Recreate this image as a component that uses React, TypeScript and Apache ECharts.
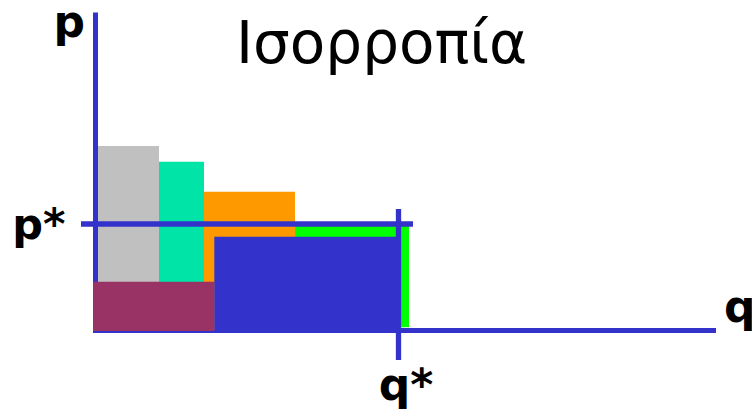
import React, { useEffect, useRef } from "react";
import * as echarts from "echarts";

// Quantity / price extents of the diagram (1 unit = 10 px)
const qMax = 61.8;
const pMax = 31.5;

// Equilibrium point
const qStar = 30.3;
const pStar = 10.6;

// Stacked blocks: left/right edges on q, base/top on p
const blockLeft = [0.25, 6.35, 10.85, 19.95, -0.25, 11.88];
const blockRight = [6.35, 10.85, 19.95, 31.35, 11.88, 30.55];
const blockBase = [0, 0, 0, 0.27, -0.1, -0.27];
const blockTop = [18.4, 16.83, 13.83, 10.6, 4.83, 9.33];
const blockColors = ["#C0C0C0", "#00E4A8", "#FF9900", "#00FF00", "#993366", "#3333CC"];

// Equilibrium guide lines
const pStarSpan = [-1.45, 31.75];
const qStarSpan = [-3.0, 12.1];

const axisColor = "#3333CC";
const titleText = "Ισορροπία";
const pLabel = "p*";
const qLabel = "q*";
const font = "DejaVu Sans, Verdana, sans-serif";

export default function App() {
  const ref = useRef<HTMLDivElement>(null);

  useEffect(() => {
    if (!ref.current) return;
    const chart = echarts.init(ref.current, undefined, { renderer: "svg" });

    const blocks = blockLeft.map((l, i) => [l, blockRight[i], blockBase[i], blockTop[i], i]);

    chart.setOption({
      animation: false,
      backgroundColor: "#ffffff",
      grid: { left: 95.5, top: 15, width: 618, height: 315, containLabel: false },
      xAxis: {
        type: "value",
        min: 0,
        max: qMax,
        axisLine: { show: true, lineStyle: { color: axisColor, width: 5, cap: "square" } },
        axisTick: { show: false },
        splitLine: { show: false },
        axisLabel: {
          customValues: [qStar],
          formatter: () => qLabel,
          margin: 32,
          padding: [0, 0, 0, 15],
          color: "#000",
          fontFamily: font,
          fontWeight: "bold",
          fontSize: 44,
        },
      },
      yAxis: {
        type: "value",
        min: 0,
        max: pMax,
        axisLine: { show: true, lineStyle: { color: axisColor, width: 5, cap: "square" } },
        axisTick: { show: false },
        splitLine: { show: false },
        axisLabel: {
          customValues: [pStar],
          formatter: () => pLabel,
          margin: 30,
          color: "#000",
          fontFamily: font,
          fontWeight: "bold",
          fontSize: 43,
        },
      },
      graphic: [
        {
          type: "text",
          x: 236,
          y: 43,
          style: { text: titleText, font: `58px ${font}`, fill: "#000", verticalAlign: "middle", align: "left" },
        },
        {
          type: "text",
          x: 53.5,
          y: 21.5,
          style: {
            text: "p",
            font: `bold 44px ${font}`,
            lineHeight: 40,
            fill: "#000",
            verticalAlign: "middle",
            align: "left",
          },
        },
        {
          type: "text",
          x: 724,
          y: 306.5,
          style: { text: "q", font: `bold 44px ${font}`, fill: "#000", verticalAlign: "middle", align: "left" },
        },
      ],
      series: [
        {
          type: "custom",
          z: 2,
          data: blocks,
          renderItem: (_params: any, api: any) => {
            const a = api.coord([api.value(0), api.value(3)]);
            const b = api.coord([api.value(1), api.value(2)]);
            return {
              type: "rect",
              shape: { x: a[0], y: a[1], width: b[0] - a[0], height: b[1] - a[1] },
              style: { fill: blockColors[api.value(4)] },
            };
          },
        },
        {
          type: "custom",
          z: 3,
          data: [
            [pStarSpan[0], pStar, pStarSpan[1], pStar],
            [qStar, qStarSpan[0], qStar, qStarSpan[1]],
          ],
          renderItem: (_params: any, api: any) => {
            const a = api.coord([api.value(0), api.value(1)]);
            const b = api.coord([api.value(2), api.value(3)]);
            return {
              type: "line",
              shape: { x1: a[0], y1: a[1], x2: b[0], y2: b[1] },
              style: { stroke: axisColor, lineWidth: 5.3 },
            };
          },
        },
      ],
    });

    return () => chart.dispose();
  }, []);

  return (
    <div
      ref={ref}
      style={{ position: "absolute", left: 0, top: 0, width: 752, height: 412 }}
    />
  );
}
